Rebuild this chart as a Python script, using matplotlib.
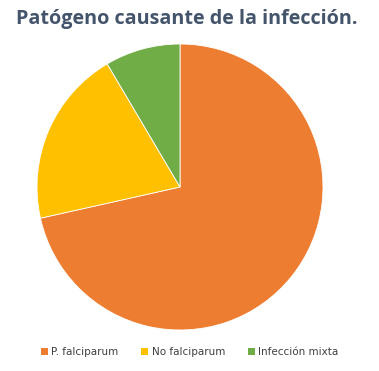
import matplotlib.pyplot as plt
from matplotlib.patches import Patch

# Datos
etiquetas = ["P. falciparum", "No falciparum", "Infección mixta"]
valores = [71.5, 20.0, 8.5]
colores = ["#ED7D31", "#FFC000", "#70AD47"]

fig = plt.figure(figsize=(3.79, 3.71), dpi=100)
# Eje ajustado al círculo del pastel
ax = fig.add_axes([37 / 379, 41 / 371, 286 / 379, 286 / 371])

ax.pie(valores, colors=colores, startangle=90, counterclock=False,
       wedgeprops={"edgecolor": "white", "linewidth": 0.6})
ax.set_xlim(-1, 1)
ax.set_ylim(-1, 1)

fig.text(0.492, 0.948, "Patógeno causante de la infección.", ha="center", va="center",
         fontsize=14.2, fontweight="bold", color="#44546A", family="Open Sans")

handles = [Patch(facecolor=c, edgecolor="none") for c in colores]
fig.legend(handles, etiquetas, loc="center", bbox_to_anchor=(0.5, 0.05), ncol=3,
           frameon=False, fontsize=7.5, handlelength=0.7, handleheight=0.7,
           handletextpad=0.3, columnspacing=2.2, labelcolor="#404040")

plt.savefig("out.png", dpi=100)
plt.close()
